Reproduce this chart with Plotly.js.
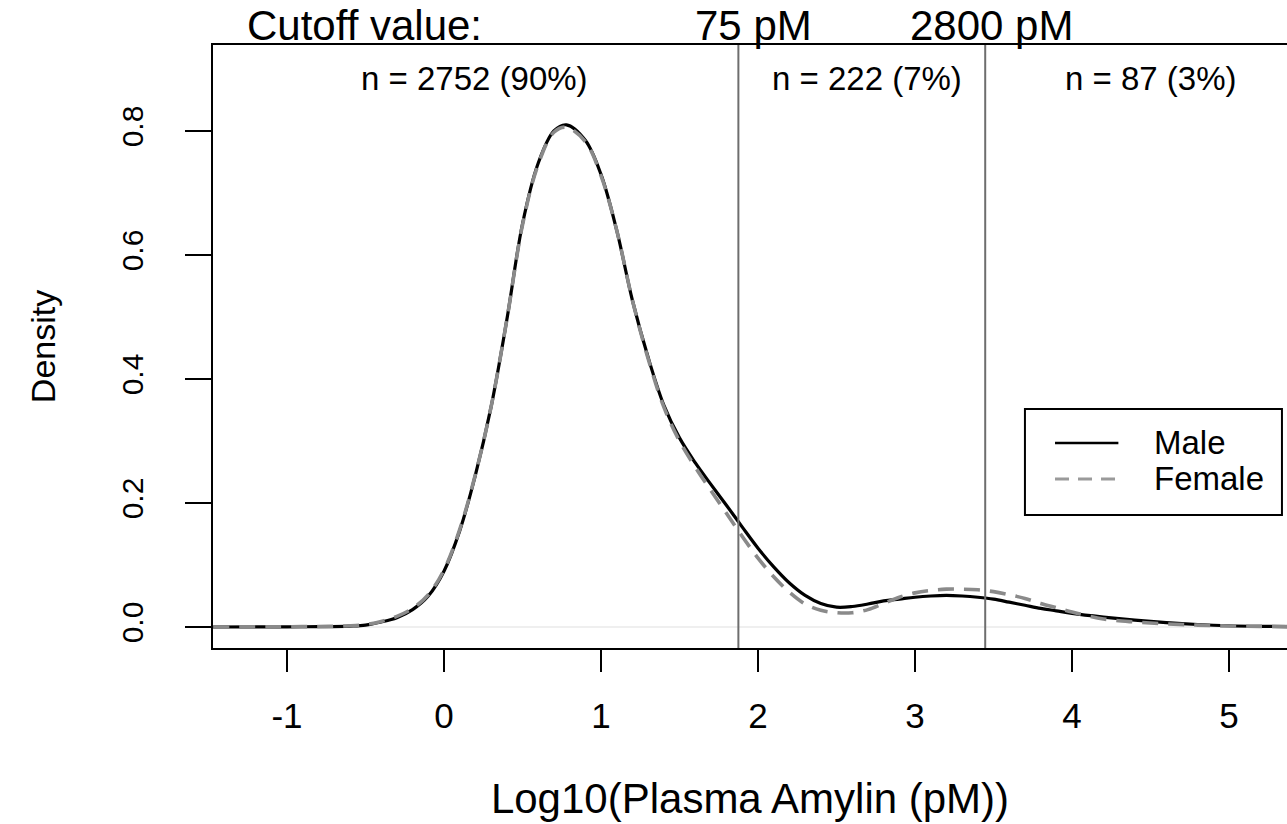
<!DOCTYPE html>
<html>
<head>
<meta charset="utf-8">
<script src="https://cdn.plot.ly/plotly-3.0.1.min.js"></script>
<style>
html,body{margin:0;padding:0;background:#fff;}
#chart{width:1287px;height:824px;}
</style>
</head>
<body>
<div id="chart"></div>
<script>
// ---- data ----
const xGrid = [-1.47,-1.2,-1.0,-0.8,-0.6,-0.5,-0.4,-0.3,-0.2,-0.1,0.0,0.1,0.2,0.3,0.4,0.5,0.6,0.7,0.78,0.9,1.0,1.1,1.2,1.3,1.4,1.5,1.6,1.7,1.8,1.9,2.0,2.1,2.2,2.3,2.4,2.5,2.6,2.7,2.8,2.9,3.0,3.1,3.2,3.3,3.4,3.5,3.6,3.7,3.8,3.9,4.0,4.2,4.4,4.6,4.8,5.0,5.2,5.4];
const maleDensity = [0.0,0.0002,0.0003,0.0006,0.0015,0.003,0.008,0.015,0.028,0.05,0.09,0.155,0.245,0.355,0.495,0.65,0.748,0.800,0.810,0.785,0.730,0.640,0.527,0.435,0.358,0.305,0.265,0.230,0.196,0.161,0.127,0.097,0.071,0.051,0.038,0.032,0.033,0.037,0.042,0.045,0.048,0.050,0.051,0.050,0.048,0.045,0.040,0.035,0.030,0.026,0.022,0.016,0.011,0.007,0.004,0.002,0.001,0.0005];
const femaleDensity = [0.0,0.0002,0.0004,0.0008,0.002,0.004,0.009,0.017,0.030,0.052,0.092,0.157,0.246,0.355,0.495,0.648,0.746,0.798,0.806,0.783,0.728,0.640,0.527,0.433,0.355,0.300,0.258,0.220,0.183,0.146,0.111,0.081,0.056,0.037,0.027,0.023,0.023,0.028,0.038,0.048,0.055,0.059,0.061,0.061,0.060,0.057,0.052,0.046,0.038,0.031,0.024,0.013,0.008,0.005,0.003,0.0015,0.001,0.0005];
const seriesNames = ["Male","Female"];
const cutoffLog = [1.875, 3.447];
const cutoffLabels = ["75 pM","2800 pM"];
const cutoffLabelX = [1.97, 3.49];
const groupLabels = ["n = 2752 (90%)","n = 222 (7%)","n = 87 (3%)"];
const groupLabelX = [0.197, 2.694, 4.5];
const xTicks = [-1,0,1,2,3,4,5];
const yTicks = [0.0,0.2,0.4,0.6,0.8];
const yTickText = ["0.0","0.2","0.4","0.6","0.8"];

const FONT = "Liberation Sans, Arial, Helvetica, sans-serif";

const traces = [
  {x: xGrid, y: maleDensity, name: seriesNames[0], type: "scatter", mode: "lines",
   line: {color: "#000000", width: 3.2, shape: "spline", smoothing: 1}, showlegend: false},
  {x: xGrid, y: femaleDensity, name: seriesNames[1], type: "scatter", mode: "lines",
   line: {color: "#8a8a8a", width: 3.6, dash: "16px,10px", shape: "spline", smoothing: 1}, showlegend: false}
];

const shapes = [];
shapes.push({type: "line", xref: "paper", yref: "y", x0: 0, x1: 1, y0: 0, y1: 0,
  line: {color: "#efefef", width: 2}, layer: "below"});
cutoffLog.forEach(c => shapes.push({type: "line", xref: "x", yref: "paper", x0: c, x1: c, y0: 0, y1: 1,
  line: {color: "#6e6e6e", width: 2}}));
shapes.push({type: "rect", xref: "paper", yref: "paper", x0: 0.756, x1: 0.9953, y0: 0.2206, y1: 0.3964,
  line: {color: "#000", width: 2}, fillcolor: "rgba(255,255,255,1)"});
shapes.push({type: "line", xref: "paper", yref: "paper", x0: 0.784, x1: 0.843, y0: 0.3400, y1: 0.3400,
  line: {color: "#000", width: 2.4}});
shapes.push({type: "line", xref: "paper", yref: "paper", x0: 0.784, x1: 0.843, y0: 0.2803, y1: 0.2803,
  line: {color: "#9a9a9a", width: 2.8, dash: "14px,9px"}});

const annotations = [];
annotations.push({text: "Cutoff value:", xref: "x", yref: "paper", x: -1.268, y: 1.0, yshift: 20,
  xanchor: "left", yanchor: "middle", showarrow: false, font: {family: FONT, size: 42, color: "#000"}});
cutoffLabels.forEach((t, i) => annotations.push({text: t, xref: "x", yref: "paper", x: cutoffLabelX[i], y: 1.0, yshift: 20,
  xanchor: "center", yanchor: "middle", showarrow: false, font: {family: FONT, size: 42, color: "#000"}}));
groupLabels.forEach((t, i) => annotations.push({text: t, xref: "x", yref: "paper", x: groupLabelX[i], y: 1.0, yshift: -33,
  xanchor: "center", yanchor: "middle", showarrow: false, font: {family: FONT, size: 33, color: "#000"}}));
seriesNames.forEach((t, i) => annotations.push({text: t, xref: "paper", yref: "paper", x: 0.8743, y: [0.3400, 0.2803][i],
  xanchor: "left", yanchor: "middle", showarrow: false, font: {family: FONT, size: 33, color: "#000"}}));

const layout = {
  width: 1287, height: 824,
  margin: {l: 213, r: 0, t: 45, b: 176, pad: 0},
  paper_bgcolor: "#fff", plot_bgcolor: "#fff",
  showlegend: false,
  xaxis: {
    range: [-1.471, 5.369], tickmode: "array", tickvals: xTicks, ticktext: xTicks.map(String),
    ticks: "outside", ticklen: 22, tickwidth: 2, tickcolor: "#000",
    showline: true, mirror: true, linecolor: "#000", linewidth: 2,
    showgrid: false, zeroline: false, ticklabelstandoff: 14,
    tickfont: {family: FONT, size: 35, color: "#000"},
    title: {text: "Log10(Plasma Amylin (pM))", font: {family: FONT, size: 42, color: "#000"}, standoff: 50}
  },
  yaxis: {
    range: [-0.0339, 0.9387], tickmode: "array", tickvals: yTicks, ticktext: yTickText,
    ticks: "outside", ticklen: 26, tickwidth: 2, tickcolor: "#000", tickangle: -90,
    showline: true, mirror: false, linecolor: "#000", linewidth: 2,
    showgrid: false, zeroline: false, ticklabelstandoff: 30,
    tickfont: {family: FONT, size: 30, color: "#000"},
    title: {text: "Density", font: {family: FONT, size: 34, color: "#000"}, standoff: 50}
  },
  shapes: shapes,
  annotations: annotations
};

Plotly.newPlot("chart", traces, layout, {displayModeBar: false, staticPlot: true});
</script>
</body>
</html>
